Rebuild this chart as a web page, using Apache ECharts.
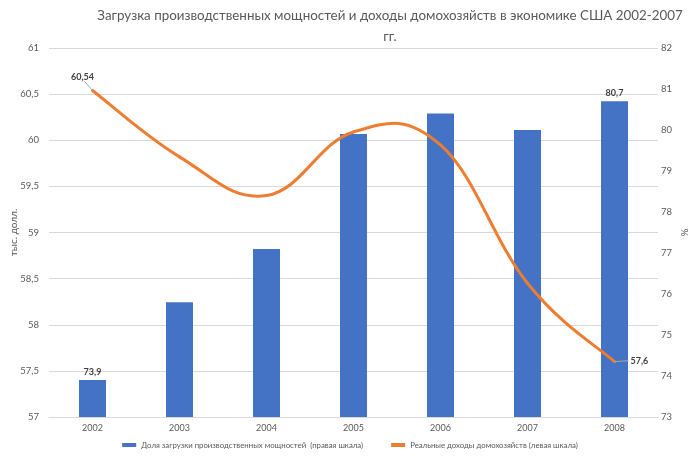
<!DOCTYPE html>
<html><head><meta charset="utf-8">
<script src="https://cdn.jsdelivr.net/npm/echarts@6/dist/echarts.min.js"></script>
<style>html,body{margin:0;padding:0;background:#fff}#c{width:700px;height:457px}</style>
</head><body><div id="c"></div>
<script>
const years = ['2002','2003','2004','2005','2006','2007','2008'];
const capacityLoad = [73.9, 75.8, 77.1, 79.9, 80.4, 80.0, 80.7];
const realIncome = [60.54, 59.82, 59.40, 60.09, 59.95, 58.45, 57.6];
const leftTicks = {min: 57, max: 61, interval: 0.5};
const rightTicks = {min: 73, max: 82, interval: 1};
const titleLine1 = 'Загрузка производственных мощностей и доходы домохозяйств в экономике США 2002-2007';
const titleLine2 = 'гг.';
const barName = 'Доля загрузки производственных мощностей  (правая шкала)';
const lineName = 'Реальные доходы домохозяйств (левая шкала)';

const comma = v => String(v).replace('.', ',');
const txt = '#595959';
const font = 'Lato';
const barLabelIdx = [0, 6];
const lineLabelIdx = [0, 6];
const lineColor = '#ED7D31';
const tension = 0.2;

// fit title text to the reference width
const cv = document.createElement('canvas').getContext('2d');
function measure(t, size) { cv.font = size + 'px ' + font; return cv.measureText(t).width; }
const titleSize = Math.min(16, 14 * 586 / measure(titleLine1, 14));
const titleW1 = measure(titleLine1, titleSize);
const titleW2 = measure(titleLine2, titleSize);
const titleCenter = 390;

const n = realIncome.length;
function renderLine(params, api) {
  const i = params.dataIndex;
  const P = j => { const k = Math.max(0, Math.min(n - 1, j)); return api.coord([k, realIncome[k]]); };
  const children = [];
  if (i < n - 1) {
    const p0 = P(i - 1), p1 = P(i), p2 = P(i + 1), p3 = P(i + 2);
    children.push({
      type: 'bezierCurve',
      shape: {
        x1: p1[0], y1: p1[1], x2: p2[0], y2: p2[1],
        cpx1: p1[0] + (p2[0] - p0[0]) * tension, cpy1: p1[1] + (p2[1] - p0[1]) * tension,
        cpx2: p2[0] - (p3[0] - p1[0]) * tension, cpy2: p2[1] - (p3[1] - p1[1]) * tension
      },
      style: {stroke: lineColor, lineWidth: 3, fill: 'none', lineCap: 'round'}
    });
  }
  if (lineLabelIdx.includes(i)) {
    const p = P(i);
    const first = i === 0;
    children.push({
      type: 'line', z2: 5,
      shape: first ? {x1: p[0], y1: p[1], x2: p[0] - 8, y2: p[1] - 9} : {x1: p[0], y1: p[1], x2: p[0] + 14, y2: p[1] - 1},
      style: {stroke: '#A6A6A6', lineWidth: 1}
    });
    children.push({
      type: 'text', z2: 6,
      x: first ? p[0] - 10 : p[0] + 16, y: first ? p[1] - 13 : p[1] - 1,
      style: {
        text: comma(realIncome[i]), fontFamily: font, fontSize: 9, fontWeight: 'bold', fill: '#404040',
        align: first ? 'center' : 'left', verticalAlign: 'middle'
      }
    });
  }
  return {type: 'group', children};
}

const chart = echarts.init(document.getElementById('c'), null, {renderer: 'canvas'});
chart.setOption({
  backgroundColor: '#fff',
  animation: false,
  title: [
    {text: titleLine1, left: titleCenter - titleW1 / 2, top: 9, padding: 0, textStyle: {fontFamily: font, fontSize: titleSize, fontWeight: 'normal', color: txt}},
    {text: titleLine2, left: titleCenter - titleW2 / 2, top: 30, padding: 0, textStyle: {fontFamily: font, fontSize: titleSize, fontWeight: 'normal', color: txt}}
  ],
  legend: {
    bottom: 3, left: 'center', itemGap: 28,
    itemWidth: 14, itemHeight: 4,
    textStyle: {fontFamily: font, fontSize: 7.8, color: txt},
    data: [
      {name: barName, icon: 'rect', itemStyle: {color: '#4472C4'}},
      {name: lineName, icon: 'rect', itemStyle: {color: lineColor}}
    ]
  },
  grid: {left: 49, right: 42, top: 48, bottom: 40, containLabel: false, outerBoundsMode: 'none'},
  xAxis: {
    type: 'category', data: years,
    axisLine: {lineStyle: {color: '#D9D9D9'}},
    axisTick: {show: false},
    axisLabel: {fontFamily: font, fontSize: 9, color: txt, margin: 7}
  },
  yAxis: [
    {
      type: 'value', position: 'left', min: leftTicks.min, max: leftTicks.max, interval: leftTicks.interval,
      name: 'тыс. долл.', nameLocation: 'middle', nameGap: 30, nameRotate: 90, nameMoveOverlap: false,
      nameTextStyle: {fontFamily: font, fontSize: 10, color: txt},
      axisLine: {show: false}, axisTick: {show: false},
      axisLabel: {fontFamily: font, fontSize: 9.5, color: txt, margin: 10, formatter: v => comma(v)},
      splitLine: {lineStyle: {color: '#D9D9D9', width: 1}}
    },
    {
      type: 'value', position: 'right', min: rightTicks.min, max: rightTicks.max, interval: rightTicks.interval,
      name: '%', nameLocation: 'middle', nameGap: 21, nameRotate: -90, nameMoveOverlap: false,
      nameTextStyle: {fontFamily: font, fontSize: 10, color: txt},
      axisLine: {show: false}, axisTick: {show: false},
      axisLabel: {fontFamily: font, fontSize: 9.5, color: txt, margin: 3},
      splitLine: {show: false}
    }
  ],
  series: [
    {
      name: barName, type: 'bar', yAxisIndex: 1, barWidth: 27,
      itemStyle: {color: '#4472C4'},
      data: capacityLoad.map((v, i) => ({
        value: v,
        label: {show: barLabelIdx.includes(i), position: 'top', distance: 4,
          fontFamily: font, fontSize: 9, fontWeight: 'bold', color: '#404040', formatter: p => comma(p.value)}
      }))
    },
    {
      name: lineName, type: 'custom', yAxisIndex: 0, coordinateSystem: 'cartesian2d',
      itemStyle: {color: lineColor},
      encode: {x: 0, y: 1},
      data: realIncome.map((v, i) => [i, v]),
      renderItem: renderLine,
      z: 3
    }
  ]
});
</script></body></html>
